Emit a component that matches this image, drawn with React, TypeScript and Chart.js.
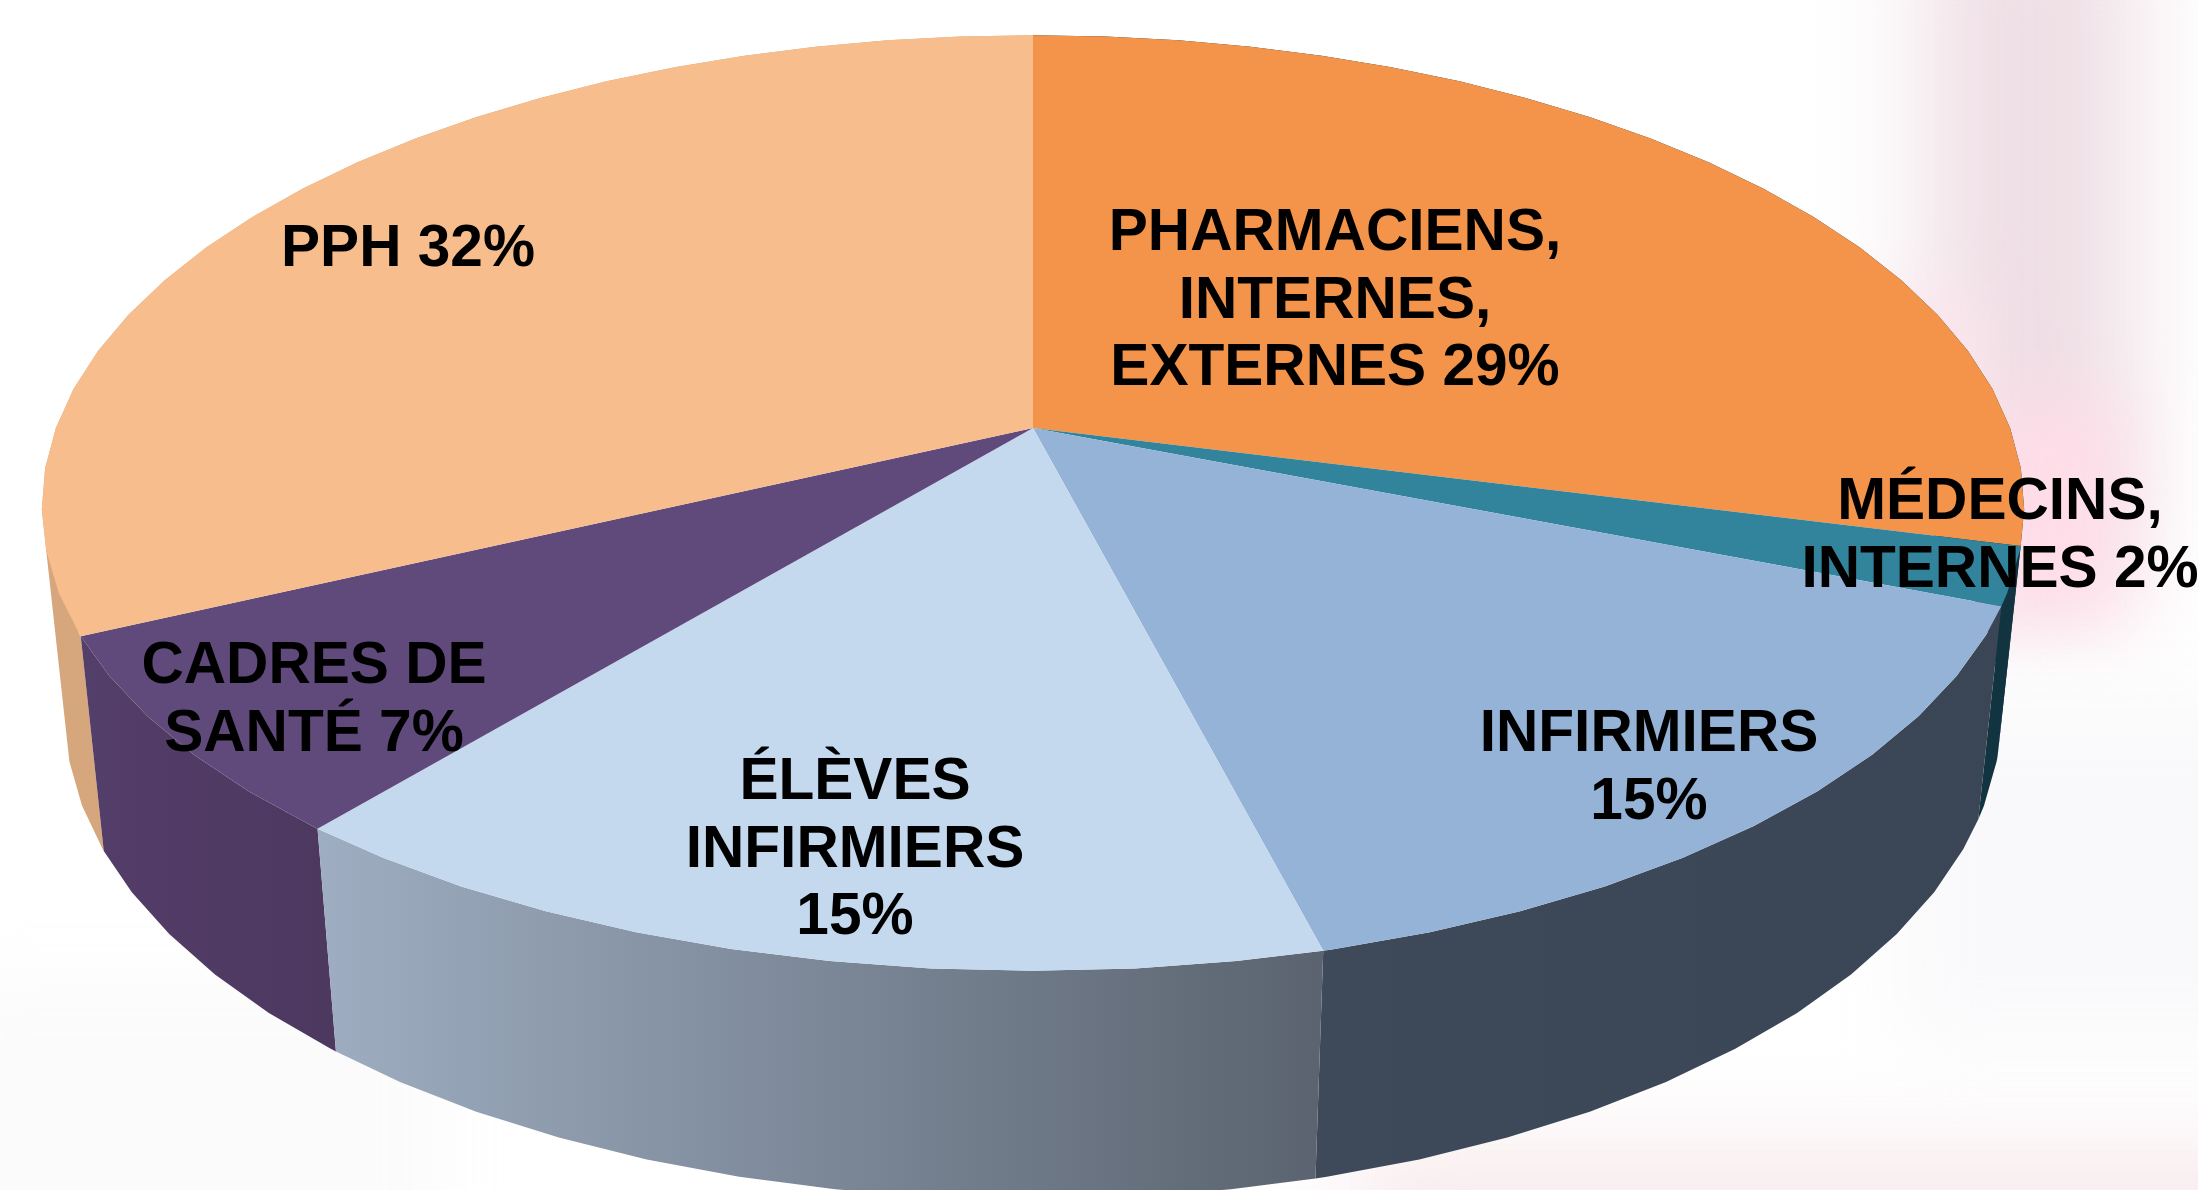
import React, { useEffect, useRef } from "react";
import { Chart, registerables } from "chart.js";

Chart.register(...registerables);

// ---- data ----
const categories = [
  "PHARMACIENS, INTERNES, EXTERNES",
  "MÉDECINS, INTERNES",
  "INFIRMIERS",
  "ÉLÈVES INFIRMIERS",
  "CADRES DE SANTÉ",
  "PPH",
];
const shares = [29, 2, 15, 15, 7, 32];
const labelLines = [
  ["PHARMACIENS,", "INTERNES,", "EXTERNES 29%"],
  ["MÉDECINS,", "INTERNES 2%"],
  ["INFIRMIERS", "15%"],
  ["ÉLÈVES", "INFIRMIERS", "15%"],
  ["CADRES DE", "SANTÉ 7%"],
  ["PPH 32%"],
];

// ---- styles ----
const topColors = ["#F4944A", "#31849B", "#95B3D7", "#C5D9EE", "#604A7B", "#F7BD8D"];
const wallLeft = ["#123340", "#123340", "#3E4A5A", "#9EADC1", "#543E6A", "#D6A67C"];
const wallRight = ["#123340", "#123340", "#3A4555", "#5A636F", "#4D3860", "#D6A67C"];
const labelCenterX = [1335, 2000, 1649, 855, 314, 408];
const labelFirstBaseline = [250, 519, 751, 799, 683, 266];
const lineGap = 67.5;
const labelFont = "bold 58.6px 'Liberation Sans', Arial, sans-serif";

// perspective of the tilted disc, relative to the chart's own pie radius
const TILT = { sx: 2.283, sy: 1.065, persp: 0.1603, perspX: 0.168, depthW: 0.023, depthY: 0.49 };
const STEP = (5 * Math.PI) / 180;

function project(arc: any, t: number, h: number): [number, number] {
  const u = Math.sin(t);
  const v = -Math.cos(t);
  const w = 1 - TILT.persp * v + TILT.depthW * h;
  const wx = 1 - TILT.perspX * v + TILT.depthW * h;
  const r = arc.outerRadius;
  return [
    arc.x + (r * TILT.sx * u) / wx,
    arc.y + (r * (TILT.sy * v + TILT.depthY * h)) / w,
  ];
}

function samples(a0: number, a1: number): number[] {
  const out = [a0];
  let k = Math.floor(a0 / STEP) + 1;
  while (k * STEP < a1 - 1e-6) {
    out.push(k * STEP);
    k++;
  }
  out.push(a1);
  return out;
}

const disc3d = {
  id: "disc3d",
  beforeDatasetDraw(chart: any) {
    const ctx = chart.ctx;
    const arcs = chart.getDatasetMeta(0).data;
    const spans = arcs.map((arc: any, i: number) => ({
      arc,
      i,
      a0: arc.startAngle + Math.PI / 2,
      a1: arc.endAngle + Math.PI / 2,
    }));
    // walls, back ones first; facets are separate quads in one path so the
    // silhouette keeps the straight edge between top rim and bottom rim
    const byDepth = [...spans].sort(
      (p: any, q: any) => -Math.cos((p.a0 + p.a1) / 2) + Math.cos((q.a0 + q.a1) / 2)
    );
    for (const s of byDepth) {
      const ts = samples(s.a0, s.a1);
      const topPts = ts.map((t) => project(s.arc, t, 0));
      const botPts = ts.map((t) => project(s.arc, t, 1));
      const x0 = topPts[0][0];
      const x1 = topPts[topPts.length - 1][0];
      const g = ctx.createLinearGradient(Math.min(x0, x1), 0, Math.max(x0, x1), 0);
      g.addColorStop(0, wallLeft[s.i]);
      g.addColorStop(1, wallRight[s.i]);
      ctx.save();
      ctx.fillStyle = g;
      ctx.beginPath();
      for (let n = 0; n < ts.length - 1; n++) {
        const a = topPts[n];
        const b = topPts[n + 1];
        const c = botPts[n + 1];
        const d = botPts[n];
        // keep one winding for every facet so they merge without seams
        const area =
          (b[0] - a[0]) * (c[1] - a[1]) - (b[1] - a[1]) * (c[0] - a[0]) +
          (c[0] - a[0]) * (d[1] - a[1]) - (c[1] - a[1]) * (d[0] - a[0]);
        const quad = area >= 0 ? [a, b, c, d] : [d, c, b, a];
        ctx.moveTo(quad[0][0], quad[0][1]);
        ctx.lineTo(quad[1][0], quad[1][1]);
        ctx.lineTo(quad[2][0], quad[2][1]);
        ctx.lineTo(quad[3][0], quad[3][1]);
        ctx.closePath();
      }
      ctx.fill();
      ctx.restore();
    }
    // top faces
    for (const s of spans) {
      ctx.save();
      ctx.fillStyle = s.arc.options.backgroundColor;
      ctx.beginPath();
      ctx.moveTo(s.arc.x, s.arc.y);
      samples(s.a0, s.a1).forEach((t) => {
        const p = project(s.arc, t, 0);
        ctx.lineTo(p[0], p[1]);
      });
      ctx.closePath();
      ctx.fill();
      ctx.restore();
    }
    return false;
  },
  afterDatasetsDraw(chart: any) {
    const ctx = chart.ctx;
    ctx.save();
    ctx.font = labelFont;
    ctx.fillStyle = "#000";
    ctx.textAlign = "center";
    ctx.textBaseline = "alphabetic";
    labelLines.forEach((lines, i) => {
      lines.forEach((line, n) => {
        ctx.fillText(line, labelCenterX[i], labelFirstBaseline[i] + n * lineGap);
      });
    });
    ctx.restore();
  },
};

const blobBase: React.CSSProperties = { position: "absolute" };
const blobs: React.CSSProperties[] = [
  { ...blobBase, left: 1930, top: -100, width: 200, height: 700, background: "#eedde4", filter: "blur(55px)" },
  { ...blobBase, left: 1980, top: 400, width: 140, height: 220, background: "#ffdde8", filter: "blur(35px)" },
  { ...blobBase, left: 1880, top: 300, width: 100, height: 320, background: "#fde4ec", filter: "blur(35px)" },
  { ...blobBase, left: 1350, top: 1150, width: 1000, height: 200, background: "#f7e9eb", filter: "blur(50px)" },
  { ...blobBase, left: 1900, top: 700, width: 400, height: 340, background: "#f9f9fb", filter: "blur(40px)" },
  { ...blobBase, left: -60, top: 980, width: 500, height: 300, background: "#fbfbfb", filter: "blur(40px)" },
];

export default function App() {
  const ref = useRef<HTMLCanvasElement>(null);
  useEffect(() => {
    document.body.style.margin = "0";
    const chart = new Chart(ref.current as HTMLCanvasElement, {
      type: "pie",
      data: {
        labels: categories,
        datasets: [{ data: shares, backgroundColor: topColors, borderWidth: 0 }],
      },
      options: {
        responsive: false,
        animation: false,
        events: [],
        radius: "100%",
        layout: { padding: { left: 0, right: 132, top: 0, bottom: 334 } },
        plugins: { legend: { display: false }, tooltip: { enabled: false }, title: { display: false } },
      },
      plugins: [disc3d],
    } as any);
    return () => chart.destroy();
  }, []);
  return (
    <div style={{ position: "relative", width: 2198, height: 1190, overflow: "hidden", background: "#fff" }}>
      {blobs.map((s, i) => (
        <div key={i} style={s} />
      ))}
      <canvas ref={ref} width={2198} height={1190} style={{ position: "absolute", left: 0, top: 0, display: "block" }} />
    </div>
  );
}
